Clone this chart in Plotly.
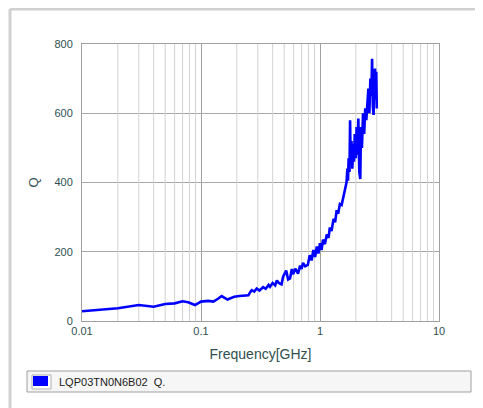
import plotly.graph_objects as go

freq_ghz = [0.010, 0.015, 0.02, 0.03, 0.04, 0.05, 0.06, 0.07, 0.078, 0.089,
            0.1, 0.115, 0.127, 0.14, 0.149, 0.167, 0.19, 0.21, 0.23, 0.25,
            0.26, 0.267, 0.28, 0.294, 0.31, 0.333, 0.35, 0.37, 0.38, 0.40,
            0.42, 0.434, 0.45, 0.475, 0.49, 0.52, 0.54, 0.56, 0.58, 0.594,
            0.62, 0.654, 0.68, 0.70, 0.72, 0.75, 0.79, 0.82, 0.85, 0.88,
            0.91, 0.94, 0.97, 1.0, 1.03, 1.06, 1.1, 1.14, 1.18, 1.21,
            1.25, 1.3, 1.34, 1.38, 1.42, 1.47, 1.52, 1.57, 1.63, 1.67,
            1.7, 1.72, 1.74, 1.77, 1.79, 1.81, 1.84, 1.87, 1.9, 1.93,
            1.96, 2.0, 2.03, 2.06, 2.1, 2.14, 2.18, 2.21, 2.25, 2.3,
            2.35, 2.4, 2.45, 2.5, 2.55, 2.6, 2.65, 2.7, 2.74, 2.78,
            2.82, 2.86, 2.9, 2.94, 2.97, 3.0]
q_values = [28, 33, 37, 46, 41, 49, 51, 57, 54, 46,
            56, 58, 56, 65, 72, 62, 70, 72, 73, 74,
            84, 89, 85, 94, 88, 98, 93, 104, 99, 110,
            103, 117, 110, 106, 128, 146, 120, 123, 150, 135,
            151, 137, 160, 150, 168, 158, 162, 190, 175, 205,
            185, 215, 195, 225, 205, 235, 222, 250, 240, 270,
            260, 295, 285, 320, 310, 338, 335, 360, 385, 400,
            440, 405, 470, 430, 580, 450, 520, 440, 510, 460,
            540, 470, 560, 480, 585, 430, 410, 560, 500, 600,
            540, 614, 580, 640, 671, 600, 700, 650, 757, 620,
            595, 700, 729, 640, 720, 614]

x_tickvals = [0.01, 0.1, 1, 10]
x_ticktext = ["0.01", "0.1", "1", "10"]
x_minor_gridvals = [0.02, 0.03, 0.04, 0.05, 0.06, 0.07, 0.08, 0.09,
                    0.2, 0.3, 0.4, 0.5, 0.6, 0.7, 0.8, 0.9,
                    2, 3, 4, 5, 6, 7, 8, 9]
y_tickvals = [0, 200, 400, 600, 800]
y_range = [0, 800]
series_name = "LQP03TN0N6B02  Q."

font_color = "#2F4F4F"
fig = go.Figure()

# minor vertical grid lines (drawn as a line trace from the minor grid values)
gx, gy = [], []
for v in x_minor_gridvals:
    gx += [v, v, None]
    gy += [y_range[0], y_range[1], None]
fig.add_trace(go.Scatter(x=gx, y=gy, mode="lines", line=dict(color="#D2D2D2", width=1),
                         hoverinfo="skip", showlegend=False))

fig.add_trace(go.Scatter(x=freq_ghz, y=q_values, mode="lines",
                         line=dict(color="#0000FF", width=2.6), name=series_name,
                         showlegend=False))

fig.update_xaxes(type="log", range=[-2, 1], tickvals=x_tickvals, ticktext=x_ticktext,
                 showgrid=True, gridcolor="#A0A0A0", gridwidth=1,
                 showline=True, linecolor="#A0A0A0", linewidth=1, mirror=True,
                 ticks="", zeroline=False,
                 tickfont=dict(family="Liberation Sans", size=11, color=font_color),
                 title=dict(text="Frequency[GHz]", font=dict(family="Liberation Sans", size=14, color=font_color), standoff=12))
fig.update_yaxes(range=y_range, tickvals=y_tickvals,
                 showgrid=True, gridcolor="#A8A8A8", gridwidth=1,
                 showline=True, linecolor="#A0A0A0", linewidth=1, mirror=True,
                 ticks="", zeroline=False, ticklabelstandoff=6,
                 tickfont=dict(family="Liberation Sans", size=11, color=font_color),
                 title=dict(text="Q", font=dict(family="Liberation Sans", size=13, color=font_color), standoff=12))

OFF = 8  # page body margin
W, H = 483 - OFF, 408 - OFF
L, R, T, B = 82 - OFF, 44, 44 - OFF, 87
pw, ph = W - L - R, H - T - B
def px(xp):
    return (xp - OFF - L) / pw
def py(yp):
    return (H - B - (yp - OFF)) / ph

shapes = [
    dict(type="line", xref="paper", yref="paper", x0=px(10), x1=px(10), y0=py(9), y1=py(410),
         line=dict(color="#D0D0D0", width=3)),
    dict(type="line", xref="paper", yref="paper", x0=px(10), x1=px(490), y0=py(9), y1=py(9),
         line=dict(color="#D0D0D0", width=3)),
    dict(type="rect", xref="paper", yref="paper", x0=px(27), x1=px(471), y0=py(392), y1=py(371),
         fillcolor="#F6F6F6", line=dict(color="#A0A0A0", width=1)),
    dict(type="rect", xref="paper", yref="paper", x0=px(32), x1=px(51), y0=py(389), y1=py(375),
         fillcolor="#FFFFFF", line=dict(color="#B0B0B0", width=1)),
    dict(type="rect", xref="paper", yref="paper", x0=px(33), x1=px(48), y0=py(386), y1=py(376),
         fillcolor="#0000FF", line=dict(width=0)),
]
fig.update_layout(
    width=W, height=H, margin=dict(l=L, r=R, t=T, b=B, autoexpand=False),
    paper_bgcolor="white", plot_bgcolor="white", shapes=shapes,
    annotations=[dict(text=series_name, xref="paper", yref="paper", x=px(57), y=py(382),
                      xanchor="left", yanchor="middle", showarrow=False,
                      font=dict(family="Liberation Sans", size=11, color="#202020"))],
)
fig.write_html("out.html")
